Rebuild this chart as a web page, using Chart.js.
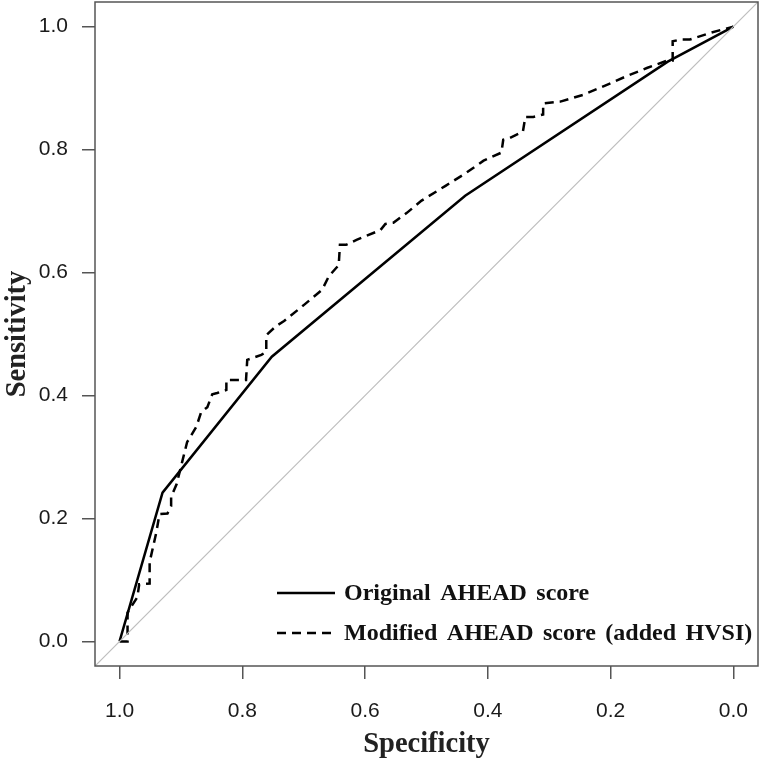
<!DOCTYPE html>
<html lang="en">
<head>
    <meta charset="UTF-8">
    <script src="https://cdn.jsdelivr.net/npm/chart.js"></script>
    <title>ROC curves</title>
    <style>
        html, body {
            margin: 0;
            padding: 0;
            background: #fff;
        }
        #wrap {
            width: 761px;
            height: 762px;
        }
    </style>
</head>
<body>
    <div id="wrap"><canvas id="rocChart"></canvas></div>
<script>
    // ROC points (specificity, sensitivity)
    const specOriginal = [1.000, 0.930, 0.752, 0.437, 0.107, 0.000];
    const sensOriginal = [0.000, 0.242, 0.463, 0.725, 0.943, 1.000];

    const specModified = [1.000, 0.987, 0.987, 0.971, 0.968, 0.951, 0.951, 0.946, 0.940, 0.935,
                          0.922, 0.916, 0.916, 0.907, 0.898, 0.890, 0.875, 0.867, 0.857, 0.849,
                          0.841, 0.826, 0.826, 0.794, 0.792, 0.769, 0.761, 0.761, 0.745, 0.732,
                          0.700, 0.670, 0.659, 0.643, 0.641, 0.631, 0.614, 0.602, 0.575, 0.567,
                          0.554, 0.532, 0.508, 0.469, 0.437, 0.407, 0.378, 0.375, 0.364, 0.343,
                          0.339, 0.326, 0.310, 0.310, 0.282, 0.245, 0.209, 0.175, 0.140, 0.107,
                          0.099, 0.099, 0.086, 0.071, 0.037, 0.000];
    const sensModified = [0.000, 0.000, 0.047, 0.072, 0.093, 0.094, 0.129, 0.151, 0.178, 0.207,
                          0.208, 0.220, 0.235, 0.256, 0.292, 0.324, 0.349, 0.373, 0.381, 0.402,
                          0.404, 0.409, 0.425, 0.425, 0.458, 0.466, 0.471, 0.498, 0.513, 0.521,
                          0.547, 0.572, 0.594, 0.612, 0.645, 0.645, 0.653, 0.658, 0.669, 0.679,
                          0.681, 0.697, 0.717, 0.741, 0.761, 0.782, 0.795, 0.816, 0.819, 0.829,
                          0.853, 0.853, 0.857, 0.875, 0.878, 0.889, 0.904, 0.919, 0.933, 0.945,
                          0.945, 0.976, 0.979, 0.979, 0.990, 1.000];

    const chanceSpec = [1.04, -0.04];
    const chanceSens = [-0.04, 1.04];

    const tickValues = [0, 0.2, 0.4, 0.6, 0.8, 1.0];

    const toPoints = (xs, ys) => xs.map((x, i) => ({x: x, y: ys[i]}));

    // box round the plot plus the legend inside it
    const boxAndLegend = {
        id: 'boxAndLegend',
        afterDatasetsDraw(chart) {
            const {ctx, chartArea: a} = chart;
            ctx.save();
            ctx.strokeStyle = '#555';
            ctx.lineWidth = 1.5;
            ctx.strokeRect(a.left, a.top, a.right - a.left, a.bottom - a.top);

            const items = chart.data.datasets.filter(d => d.inLegend);
            ctx.font = 'bold 24px "Liberation Serif", "Times New Roman", serif';
            ctx.wordSpacing = '3.5px';
            ctx.textBaseline = 'middle';
            ctx.fillStyle = '#111';
            items.forEach((d, i) => {
                const y = 593 + i * 40;
                ctx.beginPath();
                ctx.strokeStyle = d.borderColor;
                ctx.lineWidth = d.borderWidth;
                ctx.setLineDash(d.borderDash || []);
                ctx.moveTo(277, y);
                ctx.lineTo(335, y);
                ctx.stroke();
                ctx.setLineDash([]);
                ctx.fillText(d.label, 344, y + 1);
            });
            ctx.restore();
        }
    };

    const titleFont = {family: '"Liberation Serif", "Times New Roman", serif', size: 28.5, weight: 'bold'};
    const tickFont = {family: '"Liberation Sans", Arial, sans-serif', size: 21};

    new Chart(document.getElementById('rocChart'), {
        type: 'line',
        data: {
            datasets: [
                {
                    label: 'chance',
                    data: toPoints(chanceSpec, chanceSens),
                    borderColor: '#bdbdbd',
                    borderWidth: 1.2,
                    pointRadius: 0
                },
                {
                    label: 'Original AHEAD score',
                    data: toPoints(specOriginal, sensOriginal),
                    borderColor: '#000',
                    borderWidth: 2.5,
                    pointRadius: 0,
                    inLegend: true
                },
                {
                    label: 'Modified AHEAD score (added HVSI)',
                    data: toPoints(specModified, sensModified),
                    borderColor: '#000',
                    borderWidth: 2.5,
                    borderDash: [9, 6],
                    pointRadius: 0,
                    inLegend: true
                }
            ]
        },
        options: {
            responsive: true,
            maintainAspectRatio: false,
            animation: false,
            layout: {padding: {top: 2, right: 3, left: 0, bottom: 0}},
            plugins: {
                legend: {display: false},
                tooltip: {enabled: false}
            },
            scales: {
                x: {
                    type: 'linear',
                    reverse: true,
                    min: -0.04,
                    max: 1.04,
                    afterBuildTicks: s => { s.ticks = tickValues.map(v => ({value: v})); },
                    afterFit: s => { s.height = 96; s.paddingLeft = 0; s.paddingRight = 0; },
                    grid: {drawOnChartArea: false, color: '#555', tickLength: 13, lineWidth: 1.5},
                    border: {display: false},
                    ticks: {
                        padding: 20,
                        color: '#1a1a1a',
                        font: tickFont,
                        callback: v => v.toFixed(1)
                    },
                    title: {
                        display: true,
                        text: 'Specificity',
                        color: '#222',
                        padding: {top: 0, bottom: 0},
                        font: titleFont
                    }
                },
                y: {
                    type: 'linear',
                    min: -0.04,
                    max: 1.04,
                    afterBuildTicks: s => { s.ticks = tickValues.map(v => ({value: v})); },
                    afterFit: s => { s.width = 95; s.paddingTop = 0; s.paddingBottom = 0; },
                    grid: {drawOnChartArea: false, color: '#555', tickLength: 13, lineWidth: 1.5},
                    border: {display: false},
                    ticks: {
                        padding: 14,
                        color: '#1a1a1a',
                        font: tickFont,
                        callback: v => v.toFixed(1)
                    },
                    title: {
                        display: true,
                        text: 'Sensitivity',
                        color: '#222',
                        padding: {top: 1, bottom: 0},
                        font: titleFont
                    }
                }
            }
        },
        plugins: [boxAndLegend]
    });
</script>
</body>
</html>
